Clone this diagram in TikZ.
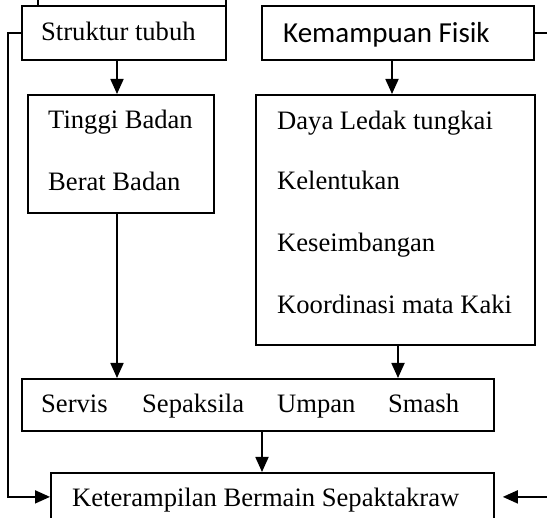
\documentclass[tikz,border=0pt]{standalone}
\usepackage{fontspec}
\setmainfont{Liberation Serif}
\newfontfamily\calibrifont{Carlito}
\usetikzlibrary{arrows.meta}
\begin{document}
\begin{tikzpicture}[x=1pt,y=-1pt,
  box/.style={draw,line width=1.8pt,inner sep=0pt,anchor=north west},
  lbl/.style={anchor=base west,inner sep=0pt,font=\fontsize{26.6}{30}\selectfont},
  arr/.style={line width=1.8pt,-{Triangle[length=15pt,width=13pt]}}]
\useasboundingbox (0,0) rectangle (547,518);
\clip (0,0) rectangle (547,518);
% boxes
\node[box,minimum width=188pt,minimum height=45pt] (top) at (37,-40) {};
\node[box,minimum width=204pt,minimum height=54pt] (struk) at (21,5) {};
\node[box,minimum width=272pt,minimum height=54pt] (kem) at (261,5) {};
\node[box,minimum width=186pt,minimum height=118pt] (tinggi) at (27,94) {};
\node[box,minimum width=279pt,minimum height=250pt] (daya) at (255,94) {};
\node[box,minimum width=472pt,minimum height=52pt] (skill) at (21,378) {};
\node[box,minimum width=443pt,minimum height=48pt] (ket) at (50,472) {};
% texts
\node[lbl] (tStruk) at (41,41) {Struktur tubuh};
\node[lbl,font=\calibrifont\fontsize{29}{32}\selectfont] (tKem) at (283,43) {Kemampuan Fisik};
\node[lbl] (tTinggi) at (48,129) {Tinggi Badan};
\node[lbl] (tBerat) at (48,191) {Berat Badan};
\node[lbl] (tDaya) at (277,130) {Daya Ledak tungkai};
\node[lbl] (tKelen) at (277,190) {Kelentukan};
\node[lbl] (tKese) at (277,252) {Keseimbangan};
\node[lbl] (tKoor) at (277,314) {Koordinasi mata Kaki};
\node[lbl] (tServis) at (41,413) {Servis};
\node[lbl] (tSepak) at (142,413) {Sepaksila};
\node[lbl] (tUmpan) at (277,413) {Umpan};
\node[lbl] (tSmash) at (388,413) {Smash};
\node[lbl] (tKet) at (72,507) {Keterampilan Bermain Sepaktakraw};
% connector x positions
\coordinate (xa) at (117,0);
\coordinate (xb) at (392,0);
\coordinate (xc) at (398,0);
\coordinate (xd) at (262,0);
\coordinate (xl) at (8,0);
\coordinate (xr) at (570,0);
% connectors
\draw[arr] (struk.south -| xa) -- (tinggi.north -| xa);
\draw[arr] (kem.south -| xb) -- (daya.north -| xb);
\draw[arr] (tinggi.south -| xa) -- (skill.north -| xa);
\draw[arr] (daya.south -| xc) -- (skill.north -| xc);
\draw[arr] (skill.south -| xd) -- (ket.north -| xd);
\draw[arr] (struk.west) -- (struk.west -| xl) -- (ket.west -| xl) -- (ket.west);
\draw[arr,shorten >=8pt] (kem.east) -- (kem.east -| xr) -- (ket.east -| xr) -- (ket.east);
\end{tikzpicture}
\end{document}
